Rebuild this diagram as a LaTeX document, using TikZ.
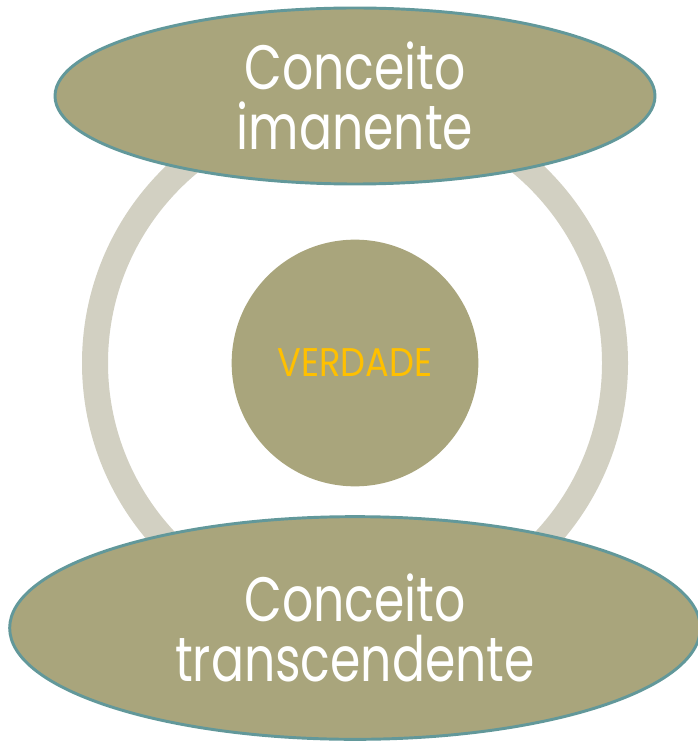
\documentclass[tikz,border=0pt]{standalone}
\usepackage{fontspec}
\setmainfont[FakeStretch=0.78]{Poppins}
\newfontfamily\vfont[FakeStretch=0.88]{Poppins}
\definecolor{olive}{RGB}{169,165,124}
\definecolor{ringc}{RGB}{210,208,194}
\definecolor{edgec}{RGB}{98,152,154}
\definecolor{gold}{RGB}{255,192,0}
\tikzset{
  blob/.style={ellipse, fill=olive, draw=edgec, line width=2.2pt, inner sep=0pt},
  bigtext/.style={text=white, font=\fontsize{47}{45}\selectfont, align=center},
}
\usetikzlibrary{shapes.geometric}
\begin{document}
\begin{tikzpicture}[x=0.75pt,y=-0.75pt]
\useasboundingbox (0,0) rectangle (697,741);
\fill[white] (0,0) rectangle (697,741);
\draw[ringc, line width=19.5pt] (355,363) circle (260);
\node[circle, fill=olive, minimum size=185pt, inner sep=0pt, text=gold, font=\vfont\fontsize{30}{30}\selectfont] (v) at (355,363) {VERDADE};
\node[blob, minimum width=450pt, minimum height=132pt] (top) at (355,96) {};
\node[bigtext] at (top.center) {Conceito\\imanente};
\node[blob, minimum width=518pt, minimum height=167pt] (bot) at (355,628) {};
\node[bigtext] at (bot.center) {Conceito\\transcendente};
\end{tikzpicture}
\end{document}
